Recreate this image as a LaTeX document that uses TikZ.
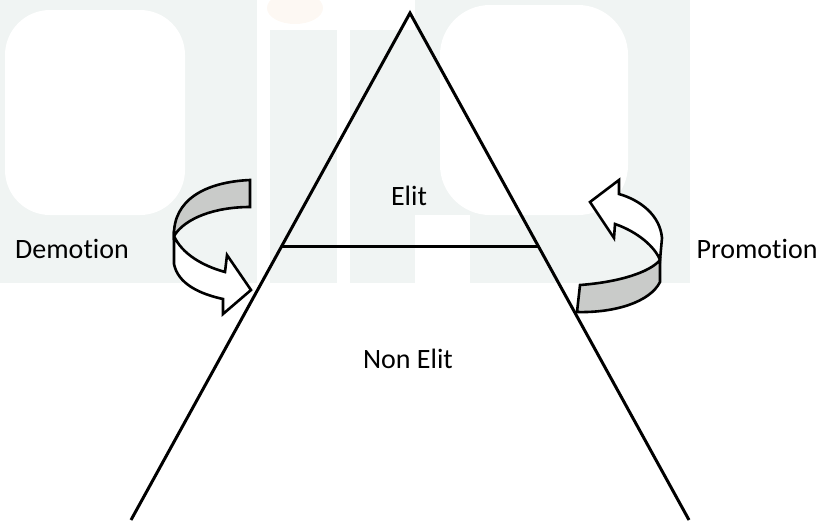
\documentclass[tikz,border=0pt]{standalone}
\usepackage{fontspec}
\setmainfont{Carlito}[Ligatures={NoCommon,NoContextual}]
\usepackage{xcolor}
\usepackage{tikz}
\usetikzlibrary{positioning, calc}

\definecolor{wmteal}{RGB}{240,244,243}
\definecolor{wmorange}{RGB}{253,248,243}
\definecolor{ribbongray}{RGB}{201,203,201}

\begin{document}
\begin{tikzpicture}[x=1pt, y=-1pt,
        lbl/.style={font=\fontsize{28}{34}\selectfont, anchor=base, inner sep=0pt},
        side/.style={line width=3pt},
        ribbon/.style={draw, line width=2.6pt, line join=miter, fill=ribbongray},
        arrowbody/.style={draw, line width=2.6pt, line join=miter, fill=white}
    ]
    \useasboundingbox (0,0) rectangle (824,520);

    % faint logo behind the picture
    \fill[wmteal] (0,0) rectangle (257,283);
    \fill[white, rounded corners=45pt] (5,10) rectangle (185,215);
    \fill[wmteal] (270,30) rectangle (337,283);
    \fill[wmteal] (350,30) rectangle (415,283);
    \fill[wmteal] (415,0) rectangle (690,283);
    \fill[white, rounded corners=50pt] (440,5) rectangle (628,215);
    \fill[white] (415,215) rectangle (470,283);
    \fill[wmorange] (295,8) ellipse (28 and 16);

    % pyramid
    \coordinate (apex) at (410,13);
    \coordinate (bl) at (131,520);
    \coordinate (br) at (689,520);
    \coordinate (cutl) at ($(apex)!0.4615!(bl)$);
    \coordinate (cutr) at ($(apex)!0.4615!(br)$);
    \draw[side] (bl) -- (apex) -- (br);
    \draw[side] (cutl) -- (cutr);

    \node[lbl] (elit) at (409,205) {Elit};
    \node[lbl] (nonelit) at (408,368) {Non Elit};
    \node[lbl] (demotion) at (72,258) {Demotion};
    \node[lbl] (promotion) at (757,258) {Promotion};

    % demotion arrow (left)
    \path[ribbon] (250,180) .. controls (205,182) and (173,200) .. (174,236)
        .. controls (185,218) and (215,207) .. (250,207) -- cycle;
    \path[arrowbody] (174,236) -- (174,264) .. controls (178,284) and (200,294) .. (223,299)
        -- (223,314) -- (251,290) -- (227,255) -- (225,272)
        .. controls (203,266) and (182,254) .. (174,236) -- cycle;

    % promotion arrow (right)
    \path[ribbon] (580,285) .. controls (620,282) and (650,272) .. (660,260)
        -- (660,282) .. controls (650,302) and (615,313) .. (577,312) -- cycle;
    \path[arrowbody] (660,260) -- (662,238) .. controls (660,215) and (640,200) .. (619,194)
        -- (619,180) -- (590,202) -- (614,238) -- (615,224)
        .. controls (638,232) and (655,247) .. (660,260) -- cycle;
\end{tikzpicture}
\end{document}
